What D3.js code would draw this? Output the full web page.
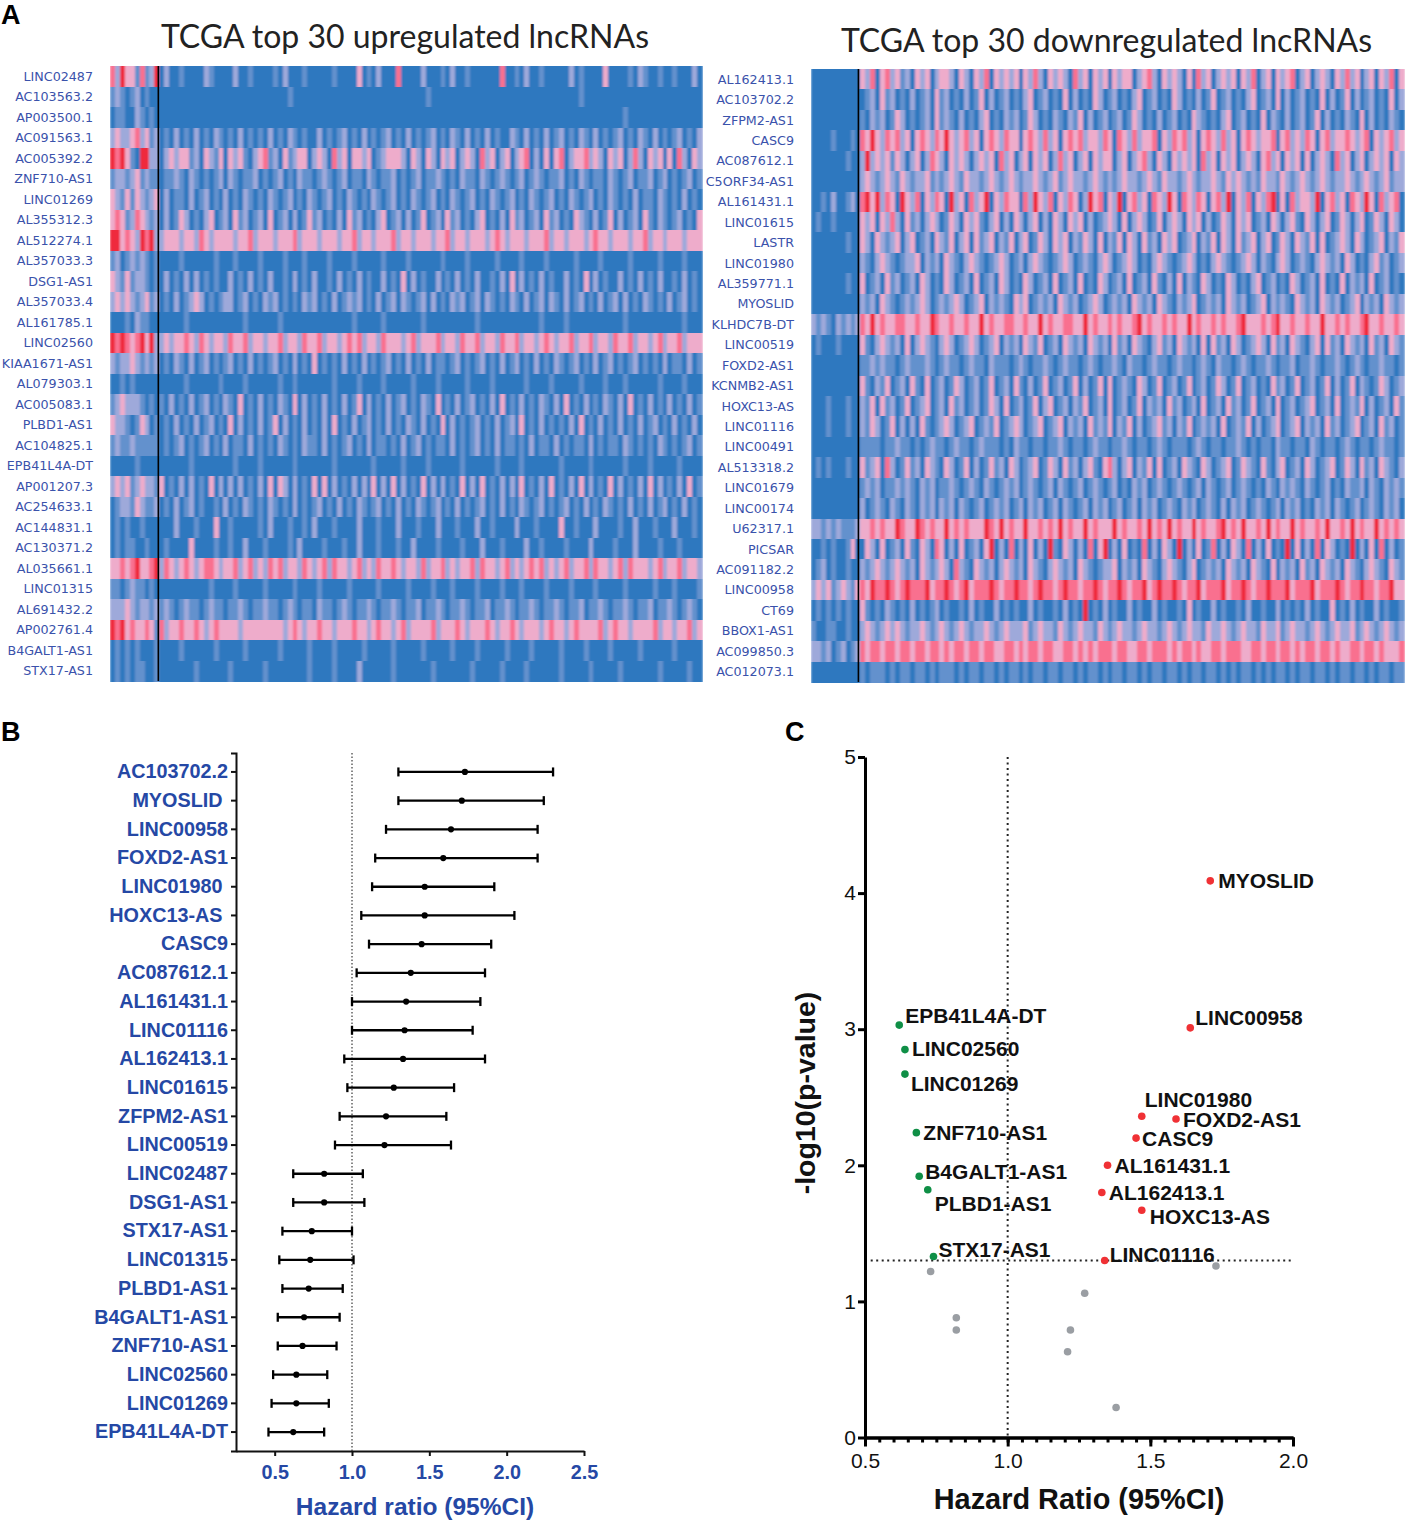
<!DOCTYPE html>
<html>
<head>
<meta charset="utf-8">
<script src="https://cdn.jsdelivr.net/npm/d3@7"></script>
<style>
  html, body { margin: 0; background: #fff; }
  svg { display: block; }
  text { white-space: pre; }
  .axis-b path, .axis-b line { stroke: #111; stroke-width: 2px; }
  .axis-b text { font: bold 19.8px "Liberation Sans", Arial, sans-serif; fill: #2548a5; stroke: none; }
  .axis-c path, .axis-c line { stroke: #000; stroke-width: 3px; }
  .axis-c text { font: 21px "Liberation Sans", Arial, sans-serif; fill: #111; stroke: none; }
</style>
</head>
<body>
<svg id="figure" width="1405" height="1531"></svg>
<script>
// Panel A: expression level 0 (blue) to 5 (red), one digit per column, read by eye
const upGenes = ['LINC02487','AC103563.2','AP003500.1','AC091563.1','AC005392.2','ZNF710-AS1','LINC01269','AL355312.3','AL512274.1','AL357033.3','DSG1-AS1','AL357033.4','AL161785.1','LINC02560','KIAA1671-AS1','AL079303.1','AC005083.1','PLBD1-AS1','AC104825.1','EPB41L4A-DT','AP001207.3','AC254633.1','AC144831.1','AC130371.2','AL035661.1','LINC01315','AL691432.2','AP002761.4','B4GALT1-AS1','STX17-AS1'];
const upRows = [
  '4253314125 0200100002 1000020010 0001020001 0000010000 3010200040 0002000102 0010000004 0010200100 0002010000 3000010210 0100100020',
  '1210120100 0000000000 0000000000 0000001000 0000000000 0000000000 0000100000 0000000000 0000000000 0000010000 0000000000 0000000000',
  '0110021010 0000000000 0000000000 0000000000 0000000000 0000000000 0000000000 0000000000 0000000000 0000000000 0000100000 0000000000',
  '2322342312 0102010201 0210102010 1020102101 0020101201 0201012010 2010120102 1020102010 0210201020 1201021020 1012010210 2010120102',
  '5453105522 0232331203 2130323102 3412031233 0232042303 3230123332 0320320323 0232042302 3023402030 3402334232 0323024203 2303042032',
  '1221231211 0112102101 0120210112 0101201021 1012101201 1021011201 0120112101 0211021012 1012012101 1201021011 0210120112 0120101201',
  '3213132123 0201102012 0102010210 1021012010 2101201021 0102101201 0210120102 1012010210 1201021012 0102101201 0210102011 0210102010',
  '3431243212 0201320102 3012031201 2030120201 3120102031 2010230120 2013012031 2010230102 0312012031 2010321020 1302012031 0210120103',
  '5534325452 2333233243 2333323342 3332333423 3323332334 2332333423 3233323342 3323332343 2333233342 3323332343 3233323342 3323332333',
  '1201212101 0000100000 0100010000 1000010001 0000100001 0000010000 1000000100 0010000010 0001000010 0000100001 0000010000 0100001000',
  '3213122101 0201020201 0100201020 1020010201 0200102010 2010020103 0201002010 2010200102 0302010201 0020103020 1002010201 0200102010',
  '2323212312 0102012320 1012201201 0212010102 1201020121 2010201202 1012020102 1201202101 0210201202 1020120102 0120201021 0102012010',
  '0001021100 0000010000 0000000100 0000100000 0000000001 0000010000 0001000000 0000100000 0000000100 0010000000 0000100000 0000001000',
  '5454345352 2323343243 2332433423 3233423324 3342332343 4233243332 3423334233 2433423324 3342332343 2334233423 3243342332 3423342333',
  '2122321212 0102102012 0101201020 1012010201 0301010201 0201012010 2010201101 2010120102 0120102010 2101201020 1201012010 1020110201',
  '0010100000 0000010000 0010000100 0000100100 0000010000 1000010000 0100001000 0010000100 0000100001 0000010000 1000100000 0100001000',
  '1232221010 1020102012 0102103010 2010210302 0102010201 3020102012 0102103010 2012010203 0102010210 2030102010 2102030102 0102010201',
  '3221013201 0102010201 2010302010 2013020102 0102030102 0120102010 2102010302 0101201020 1203010201 0102030102 0102010201 2010201020',
  '1211211111 0101201012 0102011020 1010210102 1102010120 1020110102 0120101102 0101201020 1101020110 2010110201 0110210101 0210101201',
  '0000010000 0000001000 0000010000 1000000100 0000010000 0001000001 0000100000 0100000010 0001000000 0100000100 0000100001 0000010000',
  '2323123221 3010202010 3020202010 2030320201 0303020102 0203020302 0103020201 0302030102 0203010203 0102030201 0302010203 0201020301',
  '0122132112 0102012010 0102010210 1021010201 0120102010 2101201020 1021012010 2010120102 0102101201 0120102010 2101020102 0120102010',
  '0101001000 0002000100 0300100000 1020001001 0200010000 2000100020 0010002000 1000200100 0020001000 0300100020 0001002000 1000200010',
  '0101100100 0100003000 0100100200 0100001020 0001000100 2000100010 0200001000 0100020001 0000200100 0010000200 0010002000 0100010000',
  '3343453345 2432343234 4323342342 3243423324 3234243323 4232433432 3324233423 2334243323 4232343423 2342334243 3234243332 3423342332',
  '1101211010 0000000000 1000010000 0100000100 0010000010 0000100000 1000010001 0000100001 0001000010 0001000010 0000100000 1000100001',
  '2223212212 1210121101 2110112101 1211012101 1021101210 1121011210 1120112101 1210112011 2101121011 2101120112 1011210112 0112101210',
  '5453433431 4233433432 3433332333 3333323432 3343323334 3323433234 2333342333 4323334323 3432333234 3323433334 2343323333 4233233423',
  '0101010001 0000100000 0100000100 0000100000 1000010000 0100000100 0001000001 0000100000 1000010000 0100001000 0100000100 0000100000',
  '0101011001 0000000100 0000100000 0100000000 1000010000 2000000100 0000010000 0001000001 0000100000 0100000100 0001000000 0100000100'
];

const downGenes = ['AL162413.1','AC103702.2','ZFPM2-AS1','CASC9','AC087612.1','C5ORF34-AS1','AL161431.1','LINC01615','LASTR','LINC01980','AL359771.1','MYOSLID','KLHDC7B-DT','LINC00519','FOXD2-AS1','KCNMB2-AS1','HOXC13-AS','LINC01116','LINC00491','AL513318.2','LINC01679','LINC00174','U62317.1','PICSAR','AC091182.2','LINC00958','CT69','BBOX1-AS1','AC099850.3','AC012073.1'];
const downRows = [
  '0000000000 3240342312 0323023320 3203240323 2303242032 3204230323 0323302342 0323203042 3023230324 0230323402 3023203242 3023032403',
  '0000000000 0120312010 2012031201 0201302012 0102301201 0302010320 1201023012 0103201020 1301201023 0120302012 0103020130 2012010302',
  '0000000000 1021201320 1012031210 2010230102 1201320102 1021302012 0120132010 2012010321 0102301201 0302102012 0130201021 0302010210',
  '0000100010 4353243423 0343243532 3423034324 3303432423 0343423324 3043242334 0324342303 4324230343 2334034232 4303423343 2340323423',
  '0000000100 2523231320 2302432032 3202323042 3023032302 4230230323 3023023420 3203232304 2303230232 0342303230 3023204230 2302323032',
  '0000000000 2321232132 1223121232 1322123212 3212232123 1232212321 2123221232 1322123212 2321323212 1322132123 2123212232 1232123122',
  '0010200120 4535243053 2403243052 3042350324 3304253240 3243025340 3250342304 3253043243 0342503240 3245030423 3250342304 3253042340',
  '0100100000 3230324203 1202320132 0323102302 0320230203 2032302012 3203023201 3023203230 2013203230 1203202310 3202301320 2301320320',
  '0000000100 3203212302 3012032130 2303123021 3023013203 2302132030 2130320312 0323012302 1303203123 0230132032 1303012320 3201230213',
  '0000000000 2102321012 2302120321 0232101232 0120232101 2320121023 2012320102 3210123201 0232101232 0210232012 1023212032 0102312012',
  '0000000100 3012031201 2032010320 1203012032 0103201203 0120301032 0120301203 1020302103 2010320102 3012010320 1203010302 1203012010',
  '0000000000 2120321012 1232012123 2012302121 0323012120 3212012320 1212032120 3210212301 2120321201 2302121032 1203212012 3021203212',
  '2121021212 4353433443 3433543343 3433534334 4334335343 3443353433 4343345343 3434335343 3434334533 3434533433 4335334343 3453343343',
  '0100010000 3102321203 0232102320 1232012302 1203213012 0321203212 0312032102 3120321203 0312032012 3203120321 0230312032 1203120321',
  '0000000000 1121211012 1112101211 0121102111 0121011210 1211012101 1210211012 1101211012 1021101210 1121011201 1210112101 2101121101',
  '0000000000 3102130120 3103012013 2012013012 0310201301 2013020130 3012103201 3012013012 0132013012 0103120130 1201302013 0210132012',
  '0001000100 2130312013 0123012031 2012013203 0120130230 1202130120 3012013021 2031201203 0120312013 0120301201 2301203012 1302012031',
  '0001000100 2132013020 2031012320 1230121301 2320123012 3021203121 3021302012 3120213012 1203012130 2012301230 2120312012 3012031201',
  '0000000000 1111011211 0101211012 1101211101 0211011011 2101101211 0112101101 2101110121 0110112101 0110211011 0210110121 0110121101',
  '0101000100 3123042013 1203210320 1302013120 3201230132 0312023103 4202302130 3012032103 2012301321 0310230120 3201230132 0312032102',
  '0000000000 1212011212 1021201121 0121021012 1201210120 2101201210 1201021201 2101210120 2101201210 1021021210 2101201021 1202102121',
  '0000000000 2012102102 1021202120 2101201212 0120212012 0210120212 0120120212 0121021201 2102021201 2101202120 1021202101 2012102120',
  '2212121112 3343433543 3543433534 3433354353 4335334343 5343353433 3534334353 4353433534 3345343533 4353433534 3343533435 3433534343',
  '0010100130 0320301203 1032043020 3012035020 4020302051 0320204035 0203010402 0320502030 1402032040 2030105030 2040320105 0203040201',
  '0120100100 2123212321 2032123204 2103212023 2120321023 2120321012 2302120321 0232102301 2120321203 2103021203 1203212032 1023210321',
  '2323123213 4354454345 4445344543 4534445434 4544345443 4544344543 4454344534 5445434453 4445344543 4454445344 4534445434 4544344533',
  '0101010100 3101021010 2010120100 1020100201 0100201001 0201050102 0100201002 0100103010 0201001020 0100201010 2010030102 0100201001',
  '1001100100 2321232321 2232123212 3212232123 2223123221 3212322132 1232212322 1232123221 3223212322 1322312322 1232123223 1232123212',
  '2212012012 4344344344 3443443434 4344344334 4343443443 3443434344 4344334434 4434344343 3443444334 4344344343 4434434334 4344343334',
  '0000000000 1011101011 0110101110 1011011010 1101011011 0110101101 0110110101 1011010110 1101010110 1010110101 1011010110 1101011011'
];

// Panel B: hazard ratio with 95% CI
const hrGenes = ['AC103702.2','MYOSLID ','LINC00958','FOXD2-AS1','LINC01980 ','HOXC13-AS ','CASC9','AC087612.1','AL161431.1','LINC01116','AL162413.1','LINC01615','ZFPM2-AS1','LINC00519','LINC02487','DSG1-AS1','STX17-AS1','LINC01315','PLBD1-AS1','B4GALT1-AS1','ZNF710-AS1','LINC02560','LINC01269','EPB41L4A-DT'];
const hrValues = [1.73,1.71,1.64,1.59,1.47,1.47,1.45,1.38,1.35,1.34,1.33,1.27,1.22,1.21,0.82,0.82,0.74,0.73,0.72,0.69,0.68,0.64,0.64,0.62];
const hrLow = [1.30,1.30,1.22,1.15,1.13,1.06,1.11,1.03,1.00,1.00,0.95,0.97,0.92,0.89,0.62,0.62,0.55,0.53,0.55,0.52,0.52,0.49,0.48,0.46];
const hrHigh = [2.30,2.24,2.20,2.20,1.92,2.05,1.90,1.86,1.83,1.78,1.86,1.66,1.61,1.64,1.07,1.08,1.00,1.01,0.94,0.92,0.90,0.84,0.85,0.82];
const hrTicks = [0.5,1.0,1.5,2.0,2.5];

// Panel C: volcano style plot
const sigUpGenes = ['MYOSLID','LINC00958','LINC01980','FOXD2-AS1','CASC9','AL161431.1','AL162413.1','HOXC13-AS','LINC01116'];
const sigUpHr = [1.71,1.64,1.47,1.59,1.45,1.35,1.33,1.47,1.34];
const sigUpLogP = [4.09,3.01,2.36,2.34,2.20,2.00,1.80,1.67,1.30];
const sigDownGenes = ['EPB41L4A-DT','LINC02560','LINC01269','ZNF710-AS1','B4GALT1-AS1','PLBD1-AS1','STX17-AS1'];
const sigDownHr = [0.62,0.64,0.64,0.68,0.69,0.72,0.74];
const sigDownLogP = [3.03,2.85,2.67,2.24,1.92,1.82,1.33];
const otherHr = [0.73,0.82,0.82,1.27,1.22,1.21,1.38,1.73];
const otherLogP = [1.22,0.88,0.79,1.06,0.79,0.63,0.22,1.26];
const volcanoXTicks = [0.5,1.0,1.5,2.0];
const volcanoYTicks = [0,1,2,3,4,5];

const svg = d3.select('#figure');
const heatColors = ['#2e78bf','#6491cd','#9ea9da','#eeaccb','#f9708f','#ef2b3c'];
const heatScale = d3.scaleOrdinal().domain(d3.range(6)).range(heatColors);

// the source heatmaps are slightly soft from left to right
svg.append('defs').append('filter')
    .attr('id', 'soften').attr('x', 0).attr('width', 1)
  .append('feGaussianBlur').attr('stdDeviation', '0.9 0');

function panelLetter(text, x, y) {
  svg.append('text').attr('x', x).attr('y', y).text(text)
    .style('font', 'bold 27px "Liberation Sans", Arial, sans-serif').attr('fill', '#000');
}

function drawHeatmap(config, genes, rows) {
  const parsed = rows.map(r => r.replace(/ /g, '').split('').map(Number));
  const nCols = d3.max(parsed, r => r.length);
  const x = d3.scaleBand().domain(d3.range(nCols)).range(config.xRange);
  const y = d3.scaleBand().domain(genes).range(config.yRange);

  svg.append('text')
    .attr('x', config.titleX).attr('y', config.titleY)
    .text(config.title)
    .style('font', '32px Lato, "Open Sans", sans-serif').attr('fill', '#222');

  const chart = svg.append('g').attr('shape-rendering', 'crispEdges').attr('filter', 'url(#soften)');
  chart.append('rect')
    .attr('x', config.xRange[0]).attr('y', config.yRange[0])
    .attr('width', config.xRange[1] - config.xRange[0])
    .attr('height', config.yRange[1] - config.yRange[0])
    .attr('fill', heatColors[0]);

  genes.forEach((gene, i) => {
    chart.append('g').selectAll('rect')
      .data(parsed[i])
      .join('rect')
      .attr('x', (d, j) => x(j))
      .attr('y', y(gene))
      .attr('width', x.bandwidth() + 0.5)
      .attr('height', y.bandwidth() + 0.5)
      .attr('fill', d => heatScale(d));
  });

  // black line between the two sample groups
  svg.append('line')
    .attr('x1', x(config.splitCol) + config.splitShift).attr('x2', x(config.splitCol) + config.splitShift)
    .attr('y1', config.yRange[0]).attr('y2', config.yRange[1])
    .attr('stroke', '#000').attr('stroke-width', 1.6);

  svg.append('g').selectAll('text')
    .data(genes)
    .join('text')
    .attr('x', config.labelX)
    .attr('y', d => y(d) + y.bandwidth() / 2)
    .attr('dy', '.35em')
    .attr('text-anchor', 'end')
    .attr('fill', '#3a52ab')
    .style('font', '12.7px "DejaVu Sans", sans-serif')
    .text(d => d);
}

function drawForest() {
  const x = d3.scaleLinear().domain([0.25, 2.5]).range([236, 584]);
  const y = d3.scaleBand().domain(hrGenes).range([753, 1451]).paddingInner(0).paddingOuter(0.16);
  const rowY = i => y(hrGenes[i]) + y.bandwidth() / 2;

  svg.append('line')
    .attr('x1', x(1)).attr('x2', x(1)).attr('y1', 753).attr('y2', 1451)
    .attr('stroke', '#111').attr('stroke-width', 1).attr('stroke-dasharray', '1.5,2');

  svg.append('g').attr('class', 'axis-b').attr('transform', 'translate(236,0)')
    .call(d3.axisLeft(y).tickSizeOuter(0).tickSize(5).tickPadding(3));
  svg.append('g').attr('class', 'axis-b').attr('transform', 'translate(0,1451)')
    .call(d3.axisBottom(x).tickValues(hrTicks).tickFormat(d3.format('.1f')).tickSize(5).tickSizeOuter(0).tickPadding(9));

  const rows = svg.append('g').selectAll('g')
    .data(hrGenes.map((g, i) => i))
    .join('g')
    .attr('stroke', '#000').attr('stroke-width', 2.3);
  rows.append('line').attr('x1', i => x(hrLow[i])).attr('x2', i => x(hrHigh[i])).attr('y1', rowY).attr('y2', rowY);
  rows.append('line').attr('x1', i => x(hrLow[i])).attr('x2', i => x(hrLow[i])).attr('y1', i => rowY(i) - 4.5).attr('y2', i => rowY(i) + 4.5);
  rows.append('line').attr('x1', i => x(hrHigh[i])).attr('x2', i => x(hrHigh[i])).attr('y1', i => rowY(i) - 4.5).attr('y2', i => rowY(i) + 4.5);
  rows.append('circle').attr('cx', i => x(hrValues[i])).attr('cy', rowY).attr('r', 3.1).attr('fill', '#000').attr('stroke', 'none');

  svg.append('text').attr('x', 415).attr('y', 1515).attr('text-anchor', 'middle')
    .text('Hazard ratio (95%CI)')
    .style('font', 'bold 24.5px "Liberation Sans", Arial, sans-serif').attr('fill', '#2548a5');
}

function drawVolcano() {
  const x = d3.scaleLinear().domain([0.5, 2.0]).range([865, 1293]);
  const y = d3.scaleLinear().domain([0, 5]).range([1437.5, 757]);

  const dotted = svg.append('g').attr('stroke', '#222').attr('stroke-width', 2).attr('stroke-dasharray', '2,3.5');
  dotted.append('line').attr('x1', x(1)).attr('x2', x(1)).attr('y1', y(5)).attr('y2', y(0));
  dotted.append('line').attr('x1', x(0.52)).attr('x2', x(2)).attr('y1', y(1.3)).attr('y2', y(1.3));

  svg.append('g').attr('class', 'axis-c').attr('transform', 'translate(0,1437.5)')
    .call(d3.axisBottom(x).tickValues(d3.range(0.5, 2.01, 0.05)).tickFormat('').tickSize(5).tickSizeOuter(0));
  svg.append('g').attr('class', 'axis-c').attr('transform', 'translate(0,1437.5)')
    .call(d3.axisBottom(x).tickValues(volcanoXTicks).tickFormat(d3.format('.1f')).tickSize(9).tickSizeOuter(0).tickPadding(7));
  svg.append('g').attr('class', 'axis-c').attr('transform', 'translate(865,0)')
    .call(d3.axisLeft(y).tickValues(volcanoYTicks).tickFormat(d3.format('d')).tickSize(7).tickSizeOuter(0).tickPadding(2));

  const dots = (hr, logP, color) => svg.append('g').selectAll('circle')
    .data(hr.map((h, i) => ({ h, p: logP[i] })))
    .join('circle')
    .attr('cx', d => x(d.h)).attr('cy', d => y(d.p)).attr('r', 3.8).attr('fill', color);
  dots(otherHr, otherLogP, '#9a9ea3');
  dots(sigUpHr, sigUpLogP, '#f03135');
  dots(sigDownHr, sigDownLogP, '#0f8f46');

  // label placement relative to each point, picked per gene to match the figure
  const labelOffset = {
    'MYOSLID': [8, 0], 'LINC00958': [5, -10], 'LINC01980': [3, -17], 'FOXD2-AS1': [7, 0], 'CASC9': [6, 0],
    'AL161431.1': [7, 0], 'AL162413.1': [7, 0], 'HOXC13-AS': [8, 6], 'LINC01116': [5, -6],
    'EPB41L4A-DT': [6, -10], 'LINC02560': [7, -1], 'LINC01269': [6, 9], 'ZNF710-AS1': [7, 0],
    'B4GALT1-AS1': [6, -5], 'PLBD1-AS1': [7, 14], 'STX17-AS1': [5, -7]
  };
  const labels = sigUpGenes.map((g, i) => ({ g, h: sigUpHr[i], p: sigUpLogP[i] }))
    .concat(sigDownGenes.map((g, i) => ({ g, h: sigDownHr[i], p: sigDownLogP[i] })));
  svg.append('g').selectAll('text')
    .data(labels)
    .join('text')
    .attr('x', d => x(d.h) + labelOffset[d.g][0])
    .attr('y', d => y(d.p) + labelOffset[d.g][1])
    .attr('dy', '.36em')
    .attr('fill', '#111')
    .style('font', 'bold 21px "Liberation Sans", Arial, sans-serif')
    .text(d => d.g);

  svg.append('text').attr('x', 1079).attr('y', 1509).attr('text-anchor', 'middle')
    .text('Hazard Ratio (95%CI)')
    .style('font', 'bold 28.9px "Liberation Sans", Arial, sans-serif').attr('fill', '#111');
  svg.append('text').attr('transform', 'translate(815,1093) rotate(-90)').attr('text-anchor', 'middle')
    .text('-log10(p-value)')
    .style('font', 'bold 28.5px "Liberation Sans", Arial, sans-serif').attr('fill', '#111');
}

panelLetter('A', 1, 24);
panelLetter('B', 1, 741);
panelLetter('C', 785, 741);

drawHeatmap({
  title: 'TCGA top 30 upregulated lncRNAs', titleX: 161, titleY: 48,
  xRange: [110, 702], yRange: [66, 681], labelX: 93, splitCol: 10, splitShift: -1
}, upGenes, upRows);
drawHeatmap({
  title: 'TCGA top 30 downregulated lncRNAs', titleX: 841, titleY: 52,
  xRange: [811, 1404], yRange: [69, 682], labelX: 794, splitCol: 10, splitShift: -2
}, downGenes, downRows);
drawForest();
drawVolcano();
</script>
</body>
</html>
